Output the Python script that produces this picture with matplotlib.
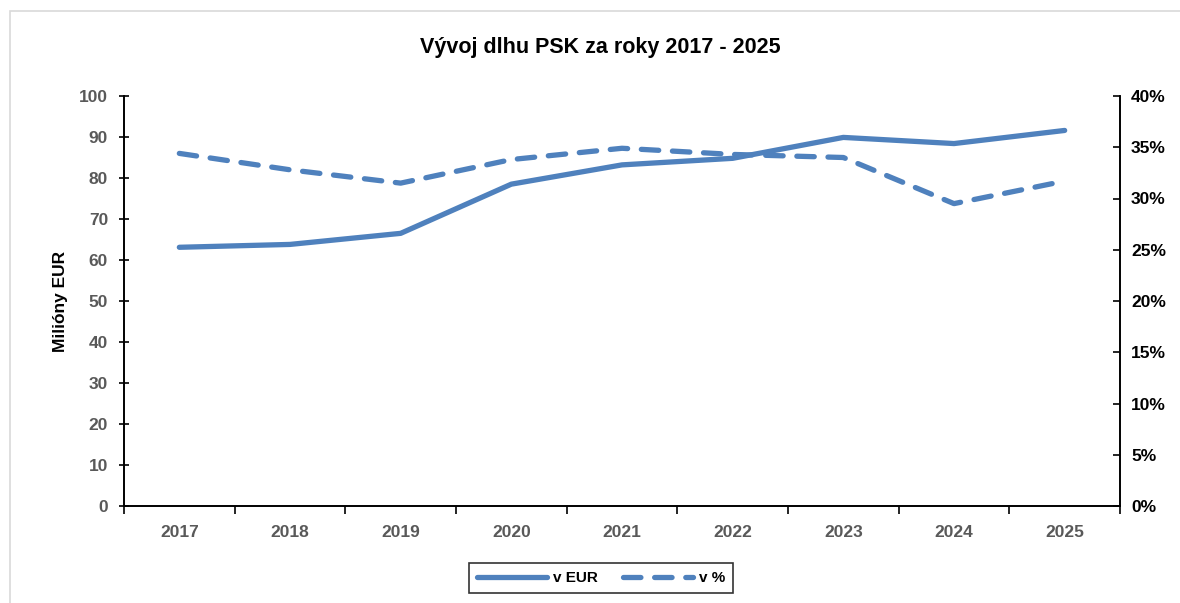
import matplotlib.pyplot as plt
import matplotlib.patches as mpatches
import numpy as np

plt.rcParams['font.family'] = ['Liberation Sans', 'DejaVu Sans']

years = ['2017', '2018', '2019', '2020', '2021', '2022', '2023', '2024', '2025']
dlh_eur = [63.1, 63.8, 66.5, 78.5, 83.2, 84.8, 89.9, 88.4, 91.6]
dlh_pct = [34.4, 32.8, 31.5, 33.8, 34.9, 34.3, 34.0, 29.5, 31.7]

color = '#4f81bd'
grey = '#595959'

fig = plt.figure(figsize=(11.8, 6.03), dpi=100)
# light border around the chart area
fig.patches.append(mpatches.Rectangle((10 / 1180, -0.1), 1.2, 1 - 11 / 603 + 0.1,
                                      transform=fig.transFigure, fill=False,
                                      edgecolor='#d9d9d9', linewidth=1.2))

ax = fig.add_axes([124 / 1180, 1 - 506 / 603, (1120 - 124) / 1180, (506 - 96) / 603])
ax2 = ax.twinx()

x = np.arange(len(years))
ax.plot(x, dlh_eur, color=color, linewidth=3.8, solid_capstyle='round', label='v EUR')
ax2.plot(x, dlh_pct, color=color, linewidth=3.8, linestyle=(0, (3.3, 2.6)),
         dash_capstyle='round', label='v %')

ax.set_xlim(-0.5, len(years) - 0.5)
ax.set_ylim(0, 100)
ax2.set_ylim(0, 40)
ax.set_yticks(np.arange(0, 101, 10))
ax2.set_yticks(np.arange(0, 41, 5))
ax2.set_yticklabels([f'{v}%' for v in range(0, 41, 5)])

ax.set_xticks(x)
ax.set_xticklabels(years)
ax.set_xticks(np.arange(-0.5, len(years), 1), minor=True)
ax.tick_params(axis='x', which='major', length=0, pad=14, labelsize=12.5, labelcolor=grey)
ax.tick_params(axis='x', which='minor', length=6, width=1.2, direction='out')
ax.tick_params(axis='y', length=7, width=1.2, direction='inout', labelsize=12.5,
               labelcolor=grey, pad=8)
ax2.tick_params(axis='y', length=5, width=1.2, direction='in', labelsize=12.5,
                labelcolor='black', pad=8)
for lab in ax.get_xticklabels() + ax.get_yticklabels() + ax2.get_yticklabels():
    lab.set_fontweight('bold')

for a in (ax, ax2):
    a.spines['top'].set_visible(False)
    for s in ('left', 'right', 'bottom'):
        a.spines[s].set_linewidth(1.2)

ax.set_ylabel('Milióny EUR', fontsize=12.5, fontweight='bold', labelpad=8)
fig.text(600 / 1180, 1 - 48 / 603, 'Vývoj dlhu PSK za roky 2017 - 2025',
         ha='center', va='center', fontsize=15.5, fontweight='bold')

h1, l1 = ax.get_legend_handles_labels()
h2, l2 = ax2.get_legend_handles_labels()
leg = fig.legend(h1 + h2, l1 + l2, loc='center', bbox_to_anchor=(601 / 1180, 1 - 578 / 603),
                 ncol=2, frameon=True, fancybox=False, edgecolor='black',
                 prop={'weight': 'bold', 'size': 11}, handlelength=4.6, columnspacing=1.6,
                 borderpad=0.5, handletextpad=0.4, borderaxespad=0)
leg.get_frame().set_linewidth(1.2)

fig.savefig('out.png', dpi=100)
